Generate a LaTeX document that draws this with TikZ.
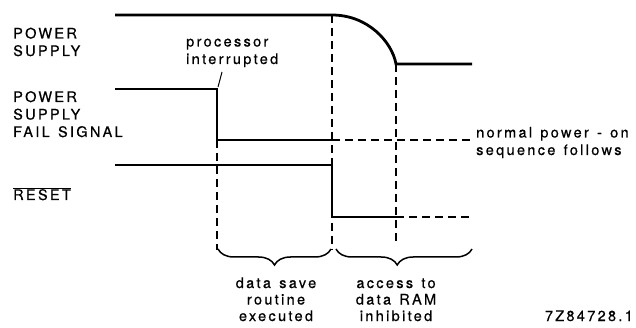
\documentclass[tikz,border=0pt]{standalone}
\usepackage{fontspec}
\setmainfont{TeX Gyre Heros}[LetterSpace=16,WordSpace=1.3,FakeBold=0.6]
\usetikzlibrary{decorations.pathreplacing}
\tikzstyle{sig} = [draw, line width=2.8pt]
\tikzstyle{dsh} = [draw, line width=1.5pt, dash pattern=on 8pt off 5pt]

\begin{document}
\begin{tikzpicture}[x=1pt,y=-1pt]
\tikzstyle{lbl} = [inner sep=0pt, align=left, font=\fontsize{14.5}{17.5}\selectfont]
\tikzstyle{ctr} = [inner sep=0pt, align=center, font=\fontsize{14.5}{16.5}\selectfont]
\tikzstyle{brc} = [draw, line width=1.5pt, decorate,
                   decoration={brace,mirror,amplitude=16pt}]
\useasboundingbox (0,0) rectangle (636,328);
% event times and levels
\coordinate (pshi) at (115,15);
\coordinate (psoff) at (332,15);
\coordinate (pslo) at (396,64);
\coordinate (psend) at (472,64);
\coordinate (pfhi) at (115,89);
\coordinate (pfup) at (217,89);
\coordinate (pfdn) at (217,140);
\coordinate (pfmid) at (332,140);
\coordinate (pfend) at (472,140);
\coordinate (rshi) at (115,165);
\coordinate (rsup) at (332,165);
\coordinate (rsdn) at (332,217);
\coordinate (rsmid) at (396,217);
\coordinate (rsend) at (472,217);
% labels (anchored at the baseline of their last line)
\node[lbl, anchor=base west] (pslbl) at (13,56) {POWER\\SUPPLY};
\node[lbl, anchor=base west] (pflbl) at (13,137) {POWER\\SUPPLY\\FAIL SIGNAL};
\node[lbl, anchor=base west] (rslbl) at (13,200) {$\overline{\mbox{RESET}}$};
\node[lbl, anchor=base west] (intlbl) at (186,64) {processor\\interrupted};
\node[lbl, anchor=base west] (normlbl) at (476,155) {normal power - on\\sequence follows};
\node[ctr, anchor=base] (savelbl) at (276,321) {data save\\routine\\executed};
\node[ctr, anchor=base] (acclbl) at (396,321) {access to\\data RAM\\inhibited};
\node[lbl, anchor=base east] (code) at (633,321) {7Z84728.1};
% waveforms
\path [sig] (pshi) -- (psoff) .. controls (368,15) and (392,42) .. (pslo) -- (psend);
\path [sig] (pfhi) -- (pfup) -- (pfdn) -- (pfmid);
\path [dsh] (pfmid) -- (pfend);
\path [sig] (rshi) -- (rsup) -- (rsdn) -- (rsmid);
\path [dsh] (rsmid) -- (rsend);
% time markers
\coordinate (ma) at (217,250);
\coordinate (mb) at (332,250);
\coordinate (mc) at (396,243);
\path [dsh] (pfdn) -- (ma);
\path [dsh] (psoff) -- (mb);
\path [dsh] (pslo) -- (mc);
\coordinate (lead) at (222,72);
\coordinate (leadend) at (218,87);
\path [draw, line width=1pt] (lead) -- (leadend);
% braces
\coordinate (ba) at (218,249);
\coordinate (bb) at (331,249);
\coordinate (bc) at (336,249);
\coordinate (bd) at (472,249);
\path [brc] (ba) -- (bb);
\path [brc, decoration={aspect=0.45}] (bc) -- (bd);
\end{tikzpicture}
\end{document}
